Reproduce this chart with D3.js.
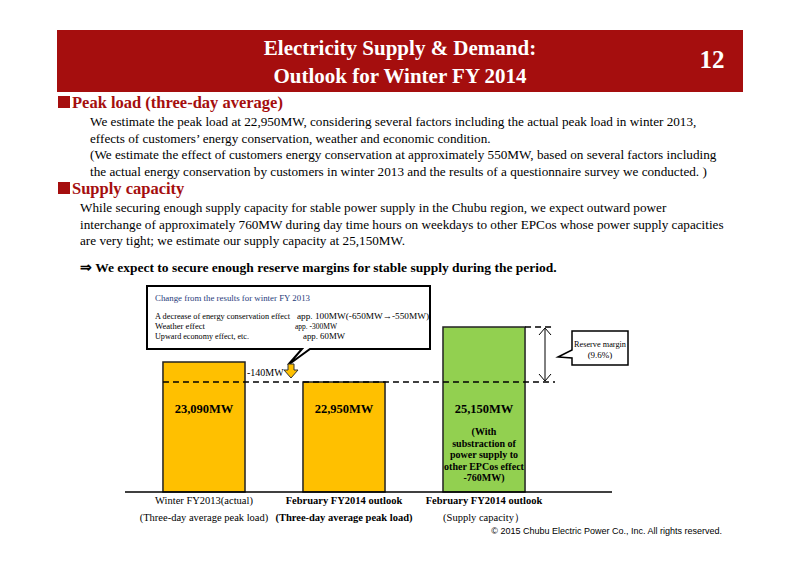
<!DOCTYPE html>
<html><head><meta charset="utf-8">
<script src="https://cdn.jsdelivr.net/npm/d3@7"></script>
<style>body{margin:0;background:#fff}svg{font-family:"Liberation Serif",serif}</style>
</head><body><svg id="c" width="800" height="566"></svg>
<script>
var categories = ["Winter FY2013(actual)", "February FY2014 outlook", "February FY2014 outlook"];
var subLabels = ["(Three-day average peak load)", "(Three-day average peak load)", "(Supply capacity\uFF09"];
var values = [23090, 22950, 25150];
var valueLabels = ["23,090MW", "22,950MW", "25,150MW"];
var colors = ["#ffc000", "#ffc000", "#92d050"];

var svg = d3.select("#c");
svg.append("rect").attr("x",57).attr("y",30).attr("width",686).attr("height",62).attr("fill","#a50e0e");
svg.append("text").attr("x",400).attr("y",55).attr("text-anchor","middle").attr("fill","#fff").attr("font-size",21).attr("font-weight","bold").text("Electricity Supply & Demand:");
svg.append("text").attr("x",400).attr("y",83).attr("text-anchor","middle").attr("fill","#fff").attr("font-size",21).attr("font-weight","bold").text("Outlook for Winter FY 2014");
svg.append("text").attr("x",712).attr("y",68).attr("text-anchor","middle").attr("fill","#fff").attr("font-size",25).attr("font-weight","bold").text("12");

function head(y, t){
  svg.append("rect").attr("x",58).attr("y",y-12).attr("width",12).attr("height",12).attr("fill","#a50e0e");
  svg.append("text").attr("x",72).attr("y",y).attr("fill","#a50e0e").attr("font-size",16.5).attr("font-weight","bold").text(t);
}
function para(x, y, lines){
  lines.forEach(function(l,i){
    svg.append("text").attr("x",x).attr("y",y+i*16.5).attr("font-size",13.2).text(l);
  });
}
head(108, "Peak load (three-day average)");
para(90, 126, ["We estimate the peak load at 22,950MW, considering several factors including the actual peak load in winter 2013,",
  "effects of customers\u2019 energy conservation, weather and economic condition.",
  "(We estimate the effect of customers energy conservation at approximately 550MW, based on several factors including",
  "the actual energy conservation by customers in winter 2013 and the results of a questionnaire survey we conducted. )"]);
head(194, "Supply capacity");
para(80, 212, ["While securing enough supply capacity for stable power supply in the Chubu region, we expect outward power",
  "interchange of approximately 760MW during day time hours on weekdays to other EPCos whose power supply capacities",
  "are very tight; we estimate our supply capacity at 25,150MW."]);
svg.append("text").attr("x",80).attr("y",272).attr("font-size",13.5).attr("font-weight","bold").text("\u21D2 We expect to secure enough reserve margins for stable supply during the period.");

var x = d3.scaleBand().domain(d3.range(3)).range([140,548]).paddingInner(0.414).paddingOuter(0.164);
var y = d3.scaleLinear().domain([22000, 22950, 23090, 25150]).range([492, 382, 362, 327]);

svg.selectAll(".bar").data(values).enter().append("rect")
  .attr("x",function(d,i){return x(i);}).attr("y",function(d){return y(d);})
  .attr("width",x.bandwidth()).attr("height",function(d){return 492-y(d);})
  .attr("fill",function(d,i){return colors[i];}).attr("stroke","#222").attr("stroke-width",1.5);
svg.append("line").attr("x1",125).attr("x2",612).attr("y1",492).attr("y2",492).attr("stroke","#000").attr("stroke-width",1.5);
values.forEach(function(d,i){
  var cx = x(i)+x.bandwidth()/2;
  svg.append("text").attr("x",cx).attr("y",413).attr("text-anchor","middle").attr("font-size",12.5).attr("font-weight","bold").text(valueLabels[i]);
  svg.append("text").attr("x",cx).attr("y",504).attr("text-anchor","middle").attr("font-size",10.5).attr("font-weight",i?"bold":"normal").text(categories[i]);
  svg.append("text").attr("x",cx).attr("y",521).attr("text-anchor","middle").attr("font-size",10.5).attr("font-weight",i==1?"bold":"normal").text(subLabels[i]);
});
["(With","substraction of","power supply to","other EPCos effect","-760MW)"].forEach(function(l,i){
  svg.append("text").attr("x",x(2)+x.bandwidth()/2).attr("y",435+i*11.5).attr("text-anchor","middle").attr("font-size",10).attr("font-weight","bold").text(l);
});
svg.append("line").attr("x1",x(0)).attr("x2",555).attr("y1",y(22950)).attr("y2",y(22950)).attr("stroke","#000").attr("stroke-width",1.5).attr("stroke-dasharray","6,4");
svg.append("line").attr("x1",x(2)+x.bandwidth()).attr("x2",555).attr("y1",y(25150)).attr("y2",y(25150)).attr("stroke","#000").attr("stroke-width",1.5).attr("stroke-dasharray","6,4");
svg.append("line").attr("x1",545).attr("x2",545).attr("y1",y(25150)+2).attr("y2",y(22950)-2).attr("stroke","#000");
svg.append("path").attr("d","M539,"+(y(25150)+8)+"L545,"+(y(25150)+1)+"L551,"+(y(25150)+8)+"M539,"+(y(22950)-8)+"L545,"+(y(22950)-1)+"L551,"+(y(22950)-8)).attr("fill","none").attr("stroke","#000");
svg.append("path").attr("d","M572,331H628V365H572V358L558,357L572,350Z").attr("fill","#fff").attr("stroke","#000").attr("stroke-width",1.5);
svg.append("text").attr("x",600).attr("y",347).attr("text-anchor","middle").attr("font-size",9).attr("textLength",52).attr("lengthAdjust","spacingAndGlyphs").text("Reserve margin");
svg.append("text").attr("x",600).attr("y",358).attr("text-anchor","middle").attr("font-size",9).text("(9.6%)");
svg.append("path").attr("d","M147,286H430V349H310L288,365L302,349H147Z").attr("fill","#fff").attr("stroke","#000").attr("stroke-width",2);
svg.append("text").attr("x",155).attr("y",301).attr("font-size",9).attr("fill","#1f3b7a").attr("textLength",155).attr("lengthAdjust","spacingAndGlyphs").text("Change from the results for winter FY 2013");
[["A decrease of energy conservation effect","app. 100MW(-650MW\u2192-550MW)",297,135],["Weather effect","app. -300MW",295,50],["Upward economy effect, etc.","app. 60MW",303,94]].forEach(function(r,i){
  svg.append("text").attr("x",155).attr("y",319+i*10).attr("font-size",9).attr("textLength",r[3]).attr("lengthAdjust","spacingAndGlyphs").text(r[0]);
  svg.append("text").attr("x",r[2]).attr("y",319+i*10).attr("font-size",9).attr("textLength",i?42:132).attr("lengthAdjust","spacingAndGlyphs").text(r[1]);
});
svg.append("text").attr("x",247).attr("y",376).attr("font-size",10).text("-140MW");
svg.append("path").attr("d","M288,364H294V370H298L291,378L284,370H288Z").attr("fill","#ffc000").attr("stroke","#333");
svg.append("text").attr("x",722).attr("y",534).attr("text-anchor","end").attr("font-family","Liberation Sans, sans-serif").attr("font-size",9).text("\u00A9 2015 Chubu Electric Power Co., Inc. All rights reserved.");
</script></body></html>
